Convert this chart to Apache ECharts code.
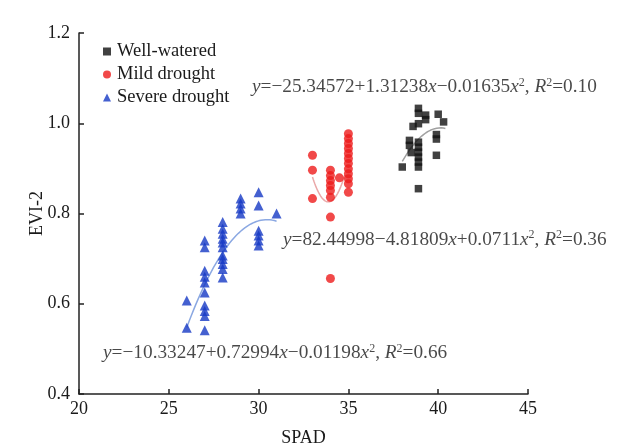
<!DOCTYPE html>
<html>
<head>
<meta charset="utf-8">
<script src="https://cdn.jsdelivr.net/npm/echarts@6/dist/echarts.min.js"></script>
<style>
  html, body { margin: 0; padding: 0; background: #fff; }
  #chart { width: 624px; height: 446px; }
</style>
</head>
<body>
<div id="chart"></div>
<script>
// SPAD vs EVI-2 under three water treatments, with quadratic fits

const wellWatered = [
  [38.9, 1.033], [38.9, 1.022], [39.3, 1.018], [39.3, 1.008], [38.6, 0.993],
  [38.9, 0.999], [40.0, 1.020], [40.3, 1.003], [39.9, 0.975], [39.9, 0.965],
  [39.9, 0.929], [38.4, 0.962], [38.4, 0.951], [38.5, 0.935], [38.9, 0.958],
  [38.9, 0.947], [38.9, 0.936], [38.9, 0.925], [38.9, 0.914], [38.9, 0.903],
  [38.0, 0.903], [38.9, 0.855]
];

const mildDrought = [
  [33, 0.929], [33, 0.896], [33, 0.833],
  [34, 0.896], [34, 0.884], [34, 0.873], [34, 0.862], [34, 0.851], [34, 0.836],
  [34, 0.792], [34, 0.656],
  [34.5, 0.879],
  [35, 0.977], [35, 0.966], [35, 0.955], [35, 0.944], [35, 0.933], [35, 0.922],
  [35, 0.911], [35, 0.899], [35, 0.888], [35, 0.877], [35, 0.866], [35, 0.847]
];

const severeDrought = [
  [26, 0.547], [26, 0.607],
  [27, 0.740], [27, 0.725], [27, 0.673], [27, 0.660], [27, 0.647], [27, 0.625],
  [27, 0.596], [27, 0.584], [27, 0.573], [27, 0.541],
  [28, 0.781], [28, 0.766], [28, 0.755], [28, 0.744], [28, 0.736], [28, 0.725],
  [28, 0.707], [28, 0.699], [28, 0.688], [28, 0.677], [28, 0.658],
  [29, 0.833], [29, 0.822], [29, 0.811], [29, 0.800],
  [30, 0.847], [30, 0.818], [30, 0.762], [30, 0.751], [30, 0.740], [30, 0.729],
  [31, 0.800]
];

// Quadratic fit coefficients [a, b, c] for y = a + b x + c x^2, and fit range
const fitWell = [-25.34572, 1.31238, -0.01635];
const fitMild = [82.44998, -4.81809, 0.0711];
const fitSevere = [-10.33247, 0.72994, -0.01198];
const rangeWell = [38.0, 40.4];
const rangeMild = [33.0, 34.8];
const rangeSevere = [26.0, 31.0];

const xTicks = [20, 25, 30, 35, 40, 45];
const yTicks = [0.4, 0.6, 0.8, 1.0, 1.2];

// Equation labels: anchor [x, y] in data units, and the R² value
const eqWellPos = [29.63, 1.08];
const eqMildPos = [31.36, 0.742];
const eqSeverePos = [21.34, 0.491];
const r2 = { well: '0.10', mild: '0.36', severe: '0.66' };

function fitCurve(coef, range) {
  const pts = [];
  const n = 40;
  for (let i = 0; i <= n; i++) {
    const x = range[0] + (range[1] - range[0]) * i / n;
    pts.push([x, coef[0] + coef[1] * x + coef[2] * x * x]);
  }
  return pts;
}

function fmtNum(v, digits) {
  return Math.abs(v).toFixed(digits);
}

function eqText(coef, digits, r) {
  const sA = coef[0] < 0 ? '\u2212' : '';
  const sB = coef[1] < 0 ? '\u2212' : '+';
  const sC = coef[2] < 0 ? '\u2212' : '+';
  return '{i|y}=' + sA + fmtNum(coef[0], 5) + sB + fmtNum(coef[1], 5) + '{i|x}' +
    sC + fmtNum(coef[2], digits) + '{i|x}{s|2}, {i|R}{s|2}=' + r;
}

const FONT = '"Liberation Serif", "Times New Roman", serif';
const TEXT = '#1a1a1a';
const EQ_SIZE = 19.3;

const richStyle = {
  i: { fontStyle: 'italic', fontFamily: FONT, fontSize: EQ_SIZE, color: TEXT },
  s: { fontFamily: FONT, fontSize: 12, color: TEXT, verticalAlign: 'top', padding: [0, 0, 9, 0] }
};

function eqSeries(pos, text) {
  return {
    type: 'scatter',
    data: [pos],
    symbolSize: 0,
    silent: true,
    z: 5,
    label: {
      show: true,
      position: 'right',
      distance: 0,
      formatter: text,
      fontFamily: FONT,
      fontSize: EQ_SIZE,
      color: TEXT,
      rich: richStyle
    }
  };
}

const chart = echarts.init(document.getElementById('chart'));

chart.setOption({
  animation: false,
  backgroundColor: '#fff',
  grid: { left: 79, right: 96, top: 33, bottom: 52, outerBoundsMode: 'none', containLabel: false },
  legend: {
    data: [
      { name: 'Well-watered', icon: 'rect' },
      { name: 'Mild drought', icon: 'circle' },
      { name: 'Severe drought', icon: 'triangle' }
    ],
    orient: 'vertical',
    left: 98,
    top: 37,
    itemWidth: 8,
    itemHeight: 8,
    itemGap: 4,
    textStyle: { fontFamily: FONT, fontSize: 18.5, color: TEXT, padding: [0, 0, 0, 1] }
  },
  xAxis: {
    type: 'value',
    min: xTicks[0],
    max: xTicks[xTicks.length - 1],
    interval: 5,
    name: 'SPAD',
    nameLocation: 'middle',
    nameGap: 35,
    nameMoveOverlap: false,
    nameTextStyle: { fontFamily: FONT, fontSize: 18, color: TEXT },
    axisLine: { lineStyle: { color: '#222', width: 1.5 } },
    axisTick: { inside: true, length: 5, lineStyle: { color: '#222', width: 1.5 } },
    axisLabel: { fontFamily: FONT, fontSize: 18, color: TEXT, margin: 6 },
    splitLine: { show: false }
  },
  yAxis: {
    type: 'value',
    min: yTicks[0],
    max: yTicks[yTicks.length - 1],
    interval: 0.2,
    name: 'EVI-2',
    nameLocation: 'middle',
    nameGap: 33,
    nameMoveOverlap: false,
    nameTextStyle: { fontFamily: FONT, fontSize: 18, color: TEXT },
    axisLine: { show: true, lineStyle: { color: '#222', width: 1.5 } },
    axisTick: { show: true, inside: true, length: 5, lineStyle: { color: '#222', width: 1.5 } },
    axisLabel: {
      fontFamily: FONT, fontSize: 18, color: TEXT, margin: 9,
      formatter: v => v.toFixed(1)
    },
    splitLine: { show: false }
  },
  series: [
    {
      name: 'Well-watered', type: 'scatter', data: wellWatered,
      symbol: 'rect', symbolSize: 7.5,
      itemStyle: { color: '#111' }, z: 3
    },
    {
      name: 'Mild drought', type: 'scatter', data: mildDrought,
      symbol: 'circle', symbolSize: 9,
      itemStyle: { color: '#ee1b1b' }, z: 3
    },
    {
      name: 'Severe drought', type: 'scatter', data: severeDrought,
      symbol: 'triangle', symbolSize: 10,
      itemStyle: { color: '#1538c4' }, z: 3
    },
    {
      type: 'line', data: fitCurve(fitWell, rangeWell), showSymbol: false, silent: true,
      lineStyle: { color: '#a0a0a0', width: 1.5 }, z: 2
    },
    {
      type: 'line', data: fitCurve(fitMild, rangeMild), showSymbol: false, silent: true,
      lineStyle: { color: '#eaa8a8', width: 1.5 }, z: 2
    },
    {
      type: 'line', data: fitCurve(fitSevere, rangeSevere), showSymbol: false, silent: true,
      lineStyle: { color: '#8ba8e2', width: 1.5 }, z: 2
    },
    eqSeries(eqWellPos, eqText(fitWell, 5, r2.well)),
    eqSeries(eqMildPos, eqText(fitMild, 4, r2.mild)),
    eqSeries(eqSeverePos, eqText(fitSevere, 5, r2.severe))
  ]
});
</script>
</body>
</html>
